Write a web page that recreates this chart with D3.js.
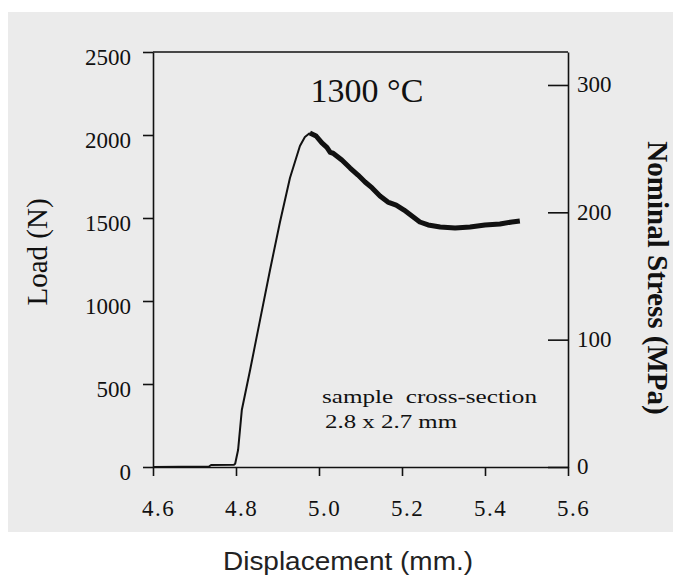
<!DOCTYPE html>
<html>
<head>
<meta charset="utf-8">
<script src="https://cdn.jsdelivr.net/npm/d3@7/dist/d3.min.js"></script>
<style>
  html, body { margin: 0; padding: 0; background: #ffffff; }
  svg { display: block; }
</style>
</head>
<body>
<script>
// ---- data ----
const xTicks = [4.6, 4.8, 5.0, 5.2, 5.4, 5.6];
const loadTicks = [0, 500, 1000, 1500, 2000, 2500];
const stressTicks = [0, 100, 200, 300];

// rising part (displacement mm, load N)
const riseDisp = [4.60, 4.735, 4.74, 4.795, 4.798, 4.805, 4.814, 4.834, 4.858, 4.882, 4.906, 4.930, 4.954, 4.966, 4.978];
const riseLoad = [0, 3, 12, 14, 20, 102, 343, 584, 886, 1187, 1476, 1741, 1934, 1988, 2012];

// softening + plateau part (noisy band)
const fallDisp = [4.978, 4.993, 5.007, 5.019, 5.027, 5.034, 5.055, 5.075, 5.094, 5.111, 5.128, 5.147, 5.166, 5.186, 5.205, 5.224, 5.243, 5.263, 5.292, 5.328, 5.364, 5.400, 5.436, 5.465, 5.484];
const fallLoad = [2012, 1994, 1952, 1925, 1895, 1890, 1849, 1801, 1759, 1717, 1681, 1633, 1596, 1578, 1548, 1512, 1476, 1458, 1446, 1440, 1446, 1458, 1464, 1476, 1482];

const titleText = "1300 °C";
const noteLines = ["sample  cross-section", "2.8 x 2.7 mm"];

// ---- drawing ----
const W = 673, H = 576;
const svg = d3.select("body").append("svg").attr("width", W).attr("height", H);

svg.append("rect").attr("x", 8).attr("y", 12).attr("width", W - 8).attr("height", 520).attr("fill", "#ebebeb");

const x = d3.scaleLinear().domain([4.6, 5.6]).range([153, 568]);
const y = d3.scaleLinear().domain([0, 2500]).range([467, 52]);
const y2 = d3.scaleLinear().domain([0, 325.9]).range([467, 52]);

const serif = "'Liberation Serif', 'DejaVu Serif', serif";
const ink = "#111";

function styleAxis(g) {
  g.selectAll("path.domain").attr("stroke", ink).attr("stroke-width", 1.6);
  g.selectAll(".tick line").attr("stroke", ink).attr("stroke-width", 1.6);
  g.selectAll(".tick text").attr("fill", ink).style("font-family", serif).style("font-size", "23px");
}

// top frame line
svg.append("line").attr("x1", x(4.6)).attr("x2", x(5.6)).attr("y1", y(2500)).attr("y2", y(2500))
  .attr("stroke", ink).attr("stroke-width", 1.6);

// left axis
const gl = svg.append("g").attr("transform", `translate(${x(4.6)},0)`)
  .call(d3.axisLeft(y).tickValues(loadTicks).tickSize(10).tickSizeOuter(0).tickPadding(12).tickFormat(d3.format("d")));
styleAxis(gl);
gl.selectAll(".tick text").attr("dy", "0.55em");

// bottom axis
const gb = svg.append("g").attr("transform", `translate(0,${y(0)})`)
  .call(d3.axisBottom(x).tickValues(xTicks).tickSize(9).tickSizeOuter(0).tickFormat(d3.format(".1f")));
styleAxis(gb);
gb.selectAll(".tick text").attr("y", 49).attr("dy", 0).attr("dx", 5).style("letter-spacing", "1.5px");

// right axis
const gr = svg.append("g").attr("transform", `translate(${x(5.6)},0)`)
  .call(d3.axisRight(y2).tickValues(stressTicks).tickSize(-20).tickSizeOuter(0).tickPadding(9).tickFormat(d3.format("d")));
styleAxis(gr);
gr.selectAll(".tick text").attr("dy", "0.3em");

// curve
const line = d3.line().x(d => x(d[0])).y(d => y(d[1]));
const rise = riseDisp.map((d, i) => [d, riseLoad[i]]);
const fall = fallDisp.map((d, i) => [d, fallLoad[i]]);
svg.append("path").datum(rise).attr("d", line).attr("fill", "none").attr("stroke", ink).attr("stroke-width", 2).attr("stroke-linejoin", "round");
svg.append("path").datum(fall).attr("d", line).attr("fill", "none").attr("stroke", ink).attr("stroke-width", 5).attr("stroke-linejoin", "round");

// title
svg.append("text").attr("x", 367).attr("y", 102).attr("text-anchor", "middle")
  .style("font-family", serif).style("font-size", "34px").attr("fill", ink).text(titleText);

// note
noteLines.forEach((t, i) => {
  svg.append("text").attr("x", i === 0 ? 322 : 325).attr("y", 403 + i * 25)
    .attr("textLength", i === 0 ? 215 : 132).attr("lengthAdjust", "spacingAndGlyphs")
    .style("font-family", serif).style("font-size", "19px").attr("fill", ink)
    .style("white-space", "pre").text(t);
});

// axis titles
svg.append("text").attr("transform", "translate(47,252) rotate(-90)").attr("text-anchor", "middle")
  .style("font-family", serif).style("font-size", "29px").attr("fill", ink).text("Load (N)");
svg.append("text").attr("transform", "translate(648,278) rotate(90)").attr("text-anchor", "middle")
  .style("font-family", serif).style("font-size", "29px").style("font-weight", "bold").attr("fill", ink).text("Nominal Stress (MPa)");

svg.append("text").attr("x", 348).attr("y", 570).attr("text-anchor", "middle")
  .attr("textLength", 250).attr("lengthAdjust", "spacingAndGlyphs")
  .style("font-family", "'Liberation Sans', Arial, sans-serif").style("font-size", "26px").attr("fill", "#222")
  .text("Displacement (mm.)");
</script>
</body>
</html>
